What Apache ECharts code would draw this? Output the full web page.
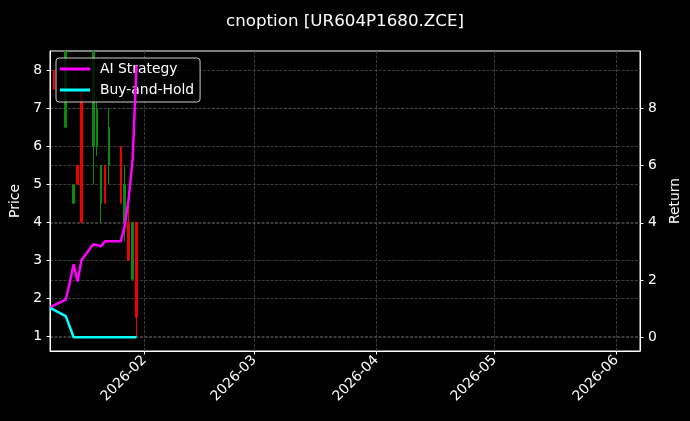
<!DOCTYPE html>
<html>
<head>
<meta charset="utf-8">
<script src="https://cdn.jsdelivr.net/npm/echarts@6/dist/echarts.min.js"></script>
<style>
html,body{margin:0;padding:0;background:#000;}
#chart{width:690px;height:421px;}
</style>
</head>
<body>
<div id="chart"></div>
<script>
// ---- data ----
const dates = ['2026-01-08','2026-01-09','2026-01-12','2026-01-13','2026-01-14','2026-01-15','2026-01-16','2026-01-19','2026-01-20','2026-01-21','2026-01-22','2026-01-23','2026-01-26','2026-01-27','2026-01-28','2026-01-29','2026-01-30'];
const openP  = [null, 8.0, 6.5, null, 4.5, 5.5, 7.5, 6.0, 6.0, 4.5, 5.5, 5.5, 6.0, 4.0, 4.0, 2.5, 4.0];
const closeP = [null, 7.5, 8.5, null, 5.0, 5.0, 4.0, 8.5, 7.0, 5.5, 4.5, 6.5, 4.5, 5.0, 3.0, 4.0, 1.5];
const lowP   = [null, 7.5, 6.5, null, 4.5, 5.0, 4.0, 5.0, 5.75, 4.0, 4.5, 5.0, 4.5, 3.5, 3.0, 2.5, 1.0];
const highP  = [null, 8.0, 8.5, null, 5.0, 5.5, 7.5, 8.5, 7.3, 5.5, 5.5, 7.0, 6.0, 5.5, 4.8, 4.0, 4.0];
const aiReturn = [1.03, 1.12, 1.32, 1.9, 2.55, 1.95, 2.7, 3.25, 3.22, 3.18, 3.36, 3.36, 3.36, 3.9, 4.85, 6.2, 9.5];
const bhReturn = [1.03, 0.96, 0.74, 0.38, 0.0, 0.0, 0.0, 0.0, 0.0, 0.0, 0.0, 0.0, 0.0, 0.0, 0.0, 0.0, 0.0];
const monthTicks = ['2026-02-01','2026-03-01','2026-04-01','2026-05-01','2026-06-01'];
const priceTicks = [1, 2, 3, 4, 5, 6, 7, 8];
const returnTicks = [0, 2, 4, 6, 8];
const titleText = 'cnoption [UR604P1680.ZCE]';

// ---- build ----
function ts(s){ const p = s.split('-').map(Number); return new Date(p[0], p[1]-1, p[2]).getTime(); }
const candleData = [];
dates.forEach((d,i)=>{ if (openP[i] != null) candleData.push([ts(d), openP[i], closeP[i], lowP[i], highP[i]]); });
const aiData = dates.map((d,i)=>[ts(d), aiReturn[i]]);
const bhData = dates.map((d,i)=>[ts(d), bhReturn[i]]);
const monthTs = monthTicks.map(ts);

const FONT = 'DejaVu Sans';
const gridLine = {show:true, lineStyle:{color:'#4a4a4a', width:0.8, type:[3,1.5]}};

const chart = echarts.init(document.getElementById('chart'), null, {renderer:'canvas'});
chart.setOption({
  animation:false,
  backgroundColor:'#000',
  textStyle:{fontFamily:FONT},
  title:{text:titleText, left:'center', top:8, textStyle:{color:'#fff', fontSize:16.7, fontWeight:'normal', fontFamily:FONT}},
  grid:{left:48, right:47, top:51, bottom:70, show:true, borderColor:'#fff', borderWidth:1, backgroundColor:'transparent'},
  legend:{
    data:['AI Strategy','Buy-and-Hold'], orient:'vertical', left:56, top:58,
    icon:'rect', itemWidth:30, itemHeight:3, itemGap:7,
    padding:[4,6,5,4], borderColor:'#ccc', borderWidth:1, borderRadius:3,
    backgroundColor:'rgba(0,0,0,0.8)',
    textStyle:{color:'#fff', fontSize:13.9, fontFamily:FONT, lineHeight:14, padding:[0,0,0,5]}
  },
  xAxis:{
    type:'value', min:ts('2026-01-08'), max:ts('2026-06-07'),
    axisLine:{show:true, onZero:false, lineStyle:{color:'#fff', width:1}},
    axisTick:{show:true, length:3.5, lineStyle:{color:'#fff'}, customValues:monthTs},
    axisLabel:{color:'#fff', fontSize:13.9, fontFamily:FONT, rotate:45, margin:7, customValues:monthTs,
      formatter:function(v){ const d=new Date(v); return d.getFullYear()+'-'+String(d.getMonth()+1).padStart(2,'0'); }},
    splitLine:Object.assign({customValues:monthTs}, gridLine)
  },
  yAxis:[
    {type:'value', position:'left', min:0.613, max:8.51,
      name:'Price', nameLocation:'middle', nameRotate:90, nameGap:28,
      nameTextStyle:{color:'#fff', fontSize:13.9, fontFamily:FONT},
      axisLine:{show:true, lineStyle:{color:'#fff'}},
      axisTick:{show:true, length:3.5, lineStyle:{color:'#fff'}, customValues:priceTicks},
      axisLabel:{color:'#fff', fontSize:13.9, fontFamily:FONT, margin:8, customValues:priceTicks},
      splitLine:Object.assign({customValues:priceTicks}, gridLine)
    },
    {type:'value', position:'right', min:-0.477, max:10.0,
      name:'Return', nameLocation:'middle', nameRotate:90, nameGap:28,
      nameTextStyle:{color:'#fff', fontSize:13.9, fontFamily:FONT},
      axisLine:{show:true, lineStyle:{color:'#fff'}},
      axisTick:{show:true, length:3.5, lineStyle:{color:'#fff'}, customValues:returnTicks},
      axisLabel:{color:'#fff', fontSize:13.9, fontFamily:FONT, margin:8, customValues:returnTicks},
      splitLine:Object.assign({customValues:returnTicks}, gridLine)
    }
  ],
  series:[
    {name:'Price', type:'candlestick', xAxisIndex:0, yAxisIndex:0, barWidth:2, clip:true,
      encode:{x:0, y:[1,2,3,4]},
      itemStyle:{color:'#0a8a0a', color0:'#ee0000', borderColor:'#0a8a0a', borderColor0:'#ee0000', borderWidth:1},
      data:candleData, z:2},
    {name:'AI Strategy', type:'line', xAxisIndex:0, yAxisIndex:1, showSymbol:false, symbol:'none',
      lineStyle:{color:'#ff00ff', width:2.5}, itemStyle:{color:'#ff00ff'}, data:aiData, z:4},
    {name:'Buy-and-Hold', type:'line', xAxisIndex:0, yAxisIndex:1, showSymbol:false, symbol:'none',
      lineStyle:{color:'#00ffff', width:2.5}, itemStyle:{color:'#00ffff'}, data:bhData, z:4}
  ]
});
</script>
</body>
</html>
